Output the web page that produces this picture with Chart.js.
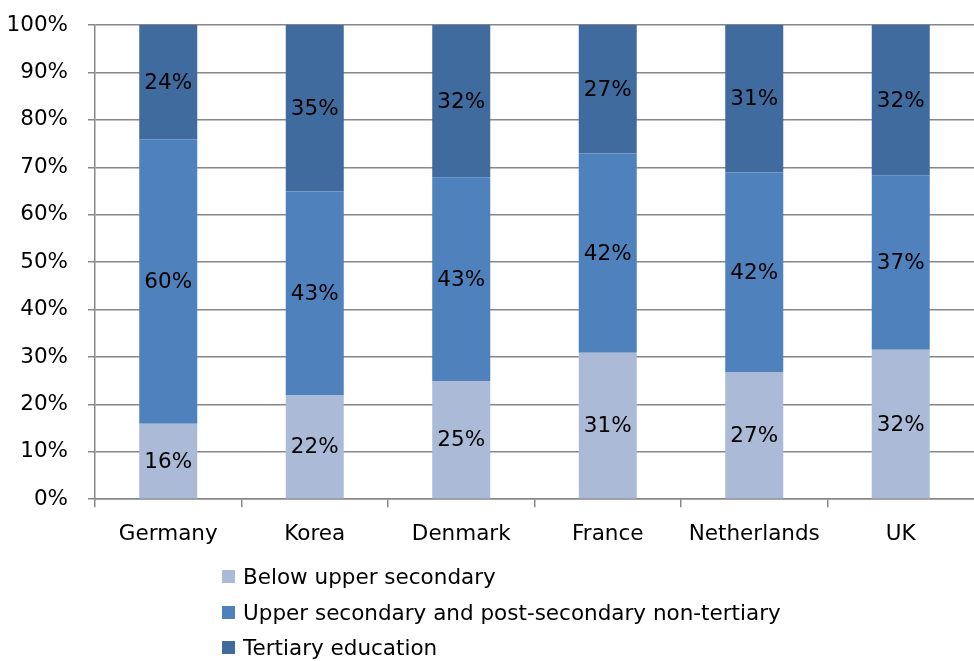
<!DOCTYPE html>
<html>
<head>
<meta charset="utf-8">
<script src="https://cdn.jsdelivr.net/npm/chart.js@4.4.1/dist/chart.umd.min.js"></script>
<style>
  html, body { margin: 0; padding: 0; background: #fff; }
  #wrap { position: relative; width: 974px; height: 661px; }
  #legend { position: absolute; left: 222px; top: 559px; font-family: "DejaVu Sans", sans-serif; font-size: 21.5px; color: #000; }
  .li { height: 35.5px; display: flex; align-items: center; }
  .sw { width: 13px; height: 13px; margin-right: 8px; }
</style>
</head>
<body>
<div id="wrap">
  <canvas id="c" width="974" height="661"></canvas>
  <div id="legend"></div>
</div>
<script>
const categories = ["Germany", "Korea", "Denmark", "France", "Netherlands", "UK"];
const belowUpperSecondary = [15.9, 22.0, 24.9, 30.9, 26.8, 31.5];
const upperSecondary = [60.0, 42.9, 43.0, 42.0, 42.1, 36.8];
const tertiary = [24.1, 35.1, 32.1, 27.1, 31.1, 31.7];
const seriesNames = ["Below upper secondary", "Upper secondary and post-secondary non-tertiary", "Tertiary education"];
const seriesColors = ["#AABAD7", "#4F81BD", "#3F6B9F"];

const FONT = "DejaVu Sans";
const FS = 21.5;
const gridColor = "#878787";

const barLabels = {
  id: "barLabels",
  afterDatasetsDraw(chart) {
    const ctx = chart.ctx;
    ctx.save();
    ctx.font = FS + "px '" + FONT + "'";
    ctx.fillStyle = "#000";
    ctx.textAlign = "center";
    ctx.textBaseline = "middle";
    chart.data.datasets.forEach((ds, di) => {
      const meta = chart.getDatasetMeta(di);
      meta.data.forEach((bar, i) => {
        const y = (bar.y + bar.base) / 2;
        ctx.fillText(Math.round(ds.data[i]) + "%", bar.x, y + 1);
      });
    });
    ctx.restore();
  }
};

const datasets = [belowUpperSecondary, upperSecondary, tertiary].map((d, i) => ({
  label: seriesNames[i],
  data: d,
  backgroundColor: seriesColors[i],
  borderWidth: 0,
  barPercentage: 0.396,
  categoryPercentage: 1.0
}));

const chart = new Chart(document.getElementById("c"), {
  type: "bar",
  data: { labels: categories, datasets },
  options: {
    responsive: false,
    animation: false,
    layout: { padding: { top: 25, right: 0, bottom: 100, left: 0 } },
    plugins: { legend: { display: false }, tooltip: { enabled: false } },
    scales: {
      x: {
        stacked: true,
        grid: { display: true, drawOnChartArea: false, tickLength: 8, offset: true, lineWidth: 1.5,
                color: c => (c.tick ? gridColor : "rgba(0,0,0,0)") },
        border: { color: gridColor, width: 1.5 },
        ticks: { color: "#000", font: { family: FONT, size: FS }, padding: 14 }
      },
      y: {
        stacked: true,
        min: 0, max: 100,
        afterFit: s => { s.width = 95; s.paddingTop = 0; },
        grid: { color: gridColor, tickLength: 7, lineWidth: 1.5 },
        border: { color: gridColor, width: 1.5 },
        ticks: { stepSize: 10, color: "#000", font: { family: FONT, size: FS }, padding: 20,
                 callback: v => v + "%" }
      }
    }
  },
  plugins: [barLabels]
});

const leg = document.getElementById("legend");
chart.data.datasets.forEach(ds => {
  const row = document.createElement("div");
  row.className = "li";
  const sw = document.createElement("span");
  sw.className = "sw";
  sw.style.background = ds.backgroundColor;
  const tx = document.createElement("span");
  tx.textContent = ds.label;
  row.appendChild(sw);
  row.appendChild(tx);
  leg.appendChild(row);
});
</script>
</body>
</html>
